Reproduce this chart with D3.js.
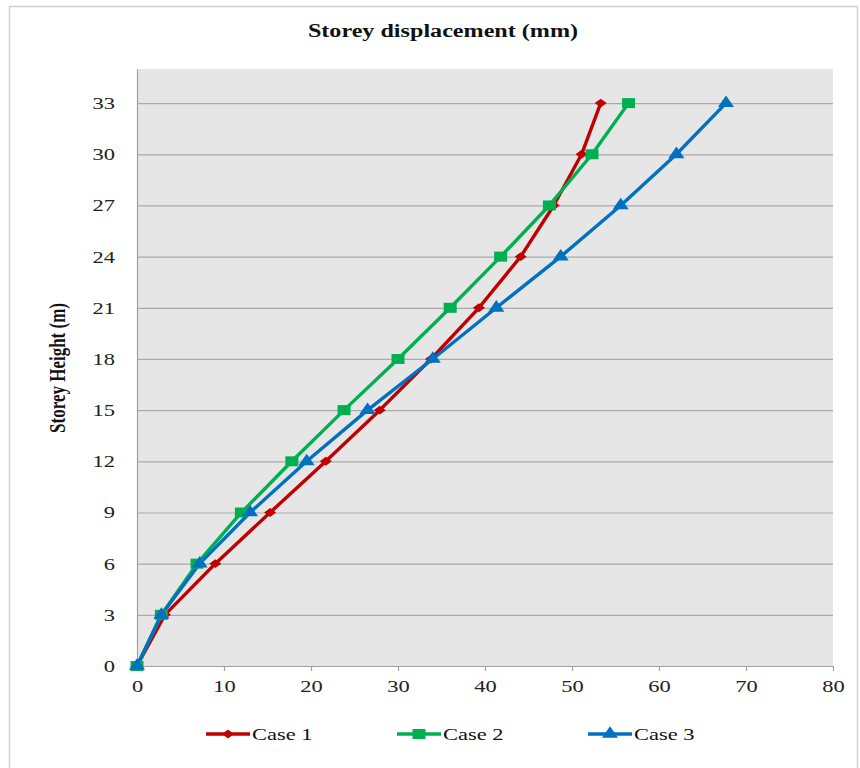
<!DOCTYPE html>
<html><head><meta charset="utf-8">
<script src="https://cdn.jsdelivr.net/npm/d3@7"></script>
<style>body{margin:0;background:#fff;} svg{display:block;}</style>
</head><body>
<script>
const storeys = [0, 3, 6, 9, 12, 15, 18, 21, 24, 27, 30, 33];
const case1 = [0, 3.2, 9.0, 15.3, 21.7, 27.9, 33.8, 39.3, 44.1, 47.9, 51.1, 53.3];
const case2 = [0, 2.8, 6.9, 12.0, 17.8, 23.8, 30.0, 36.0, 41.8, 47.4, 52.3, 56.5];
const case3 = [0, 2.8, 7.2, 13.0, 19.5, 26.5, 34.0, 41.3, 48.7, 55.6, 62.0, 67.7];
const seriesNames = ["Case 1", "Case 2", "Case 3"];
const xTicks = [0, 10, 20, 30, 40, 50, 60, 70, 80];
const yTicks = [0, 3, 6, 9, 12, 15, 18, 21, 24, 27, 30, 33];

const W = 860, H = 768;
const STRETCH = 1.32;
const svg = d3.select("body").append("svg").attr("width", W).attr("height", H);
const serif = "'Liberation Serif','Times New Roman',serif";

function stretch(sel, k) {
  sel.each(function() {
    const len = this.getComputedTextLength();
    d3.select(this).attr("textLength", len * k).attr("lengthAdjust", "spacingAndGlyphs");
  });
}

// outer chart border
svg.append("rect").attr("x", 9.5).attr("y", 6.5).attr("width", 848).attr("height", 770)
  .attr("fill", "#fff").attr("stroke", "#d0d0d0").attr("stroke-width", 1.5);

const plot = {left: 137, right: 833, top: 69, bottom: 666};
const x = d3.scaleLinear().domain([0, 80]).range([plot.left, plot.right]);
const y = d3.scaleLinear().domain([0, 35]).range([plot.bottom, plot.top]);

svg.append("rect").attr("x", plot.left).attr("y", plot.top)
  .attr("width", plot.right - plot.left).attr("height", plot.bottom - plot.top)
  .attr("fill", "#e6e6e6");

// gridlines
svg.append("g").selectAll("line").data(yTicks.filter(d => d > 0)).join("line")
  .attr("x1", plot.left).attr("x2", plot.right)
  .attr("y1", d => y(d) + 0.5).attr("y2", d => y(d) + 0.5)
  .attr("stroke", "#aaaaaa").attr("stroke-width", 1.2);

// y axis
const yAxis = svg.append("g").attr("transform", `translate(${plot.left},0)`)
  .call(d3.axisLeft(y).tickValues(yTicks).tickSize(0).tickPadding(22));
yAxis.select(".domain").attr("stroke", "#a0a0a0").attr("stroke-width", 1.2);
yAxis.selectAll("text").attr("font-family", serif).attr("font-size", 17).attr("fill", "#222")
  .call(stretch, STRETCH);

// x axis
const xAxis = svg.append("g").attr("transform", `translate(0,${plot.bottom})`)
  .call(d3.axisBottom(x).tickValues(xTicks).tickSize(5).tickSizeOuter(0).tickPadding(9));
xAxis.select(".domain").attr("stroke", "#a0a0a0").attr("stroke-width", 1.2);
xAxis.selectAll(".tick line").attr("stroke", "#a0a0a0").attr("stroke-width", 1.2);
xAxis.selectAll("text").attr("font-family", serif).attr("font-size", 17).attr("fill", "#222")
  .call(stretch, STRETCH);

// title
svg.append("text").attr("x", 443).attr("y", 37).attr("text-anchor", "middle")
  .attr("font-family", serif).attr("font-weight", "bold").attr("font-size", 18)
  .attr("fill", "#111").text("Storey displacement (mm)")
  .call(stretch, 1.34);

// y title
svg.append("text").attr("transform", `translate(65,368) scale(${STRETCH},1) rotate(-90)`)
  .attr("text-anchor", "middle")
  .attr("font-family", serif).attr("font-weight", "bold").attr("font-size", 17)
  .attr("fill", "#111").text("Storey Height (m)");

const colors = ["#c00000", "#00b050", "#0070c0"];
const diamond = {
  draw(ctx, size) {
    const r = Math.sqrt(size) / 2;
    ctx.moveTo(0, -r); ctx.lineTo(r, 0); ctx.lineTo(0, r); ctx.lineTo(-r, 0); ctx.closePath();
  }
};
const symbols = [diamond, d3.symbolSquare, d3.symbolTriangle];
const symSizes = [110, 100, 85];
const symScale = ["scale(1.15,0.85)", "scale(1.3,1)", "scale(1.15,0.95)"];
const allData = [case1, case2, case3];

const line = d3.line().x(d => x(d[0])).y(d => y(d[1]));

allData.forEach((vals, i) => {
  const pts = vals.map((v, j) => [v, storeys[j]]);
  svg.append("path").datum(pts).attr("d", line)
    .attr("fill", "none").attr("stroke", colors[i]).attr("stroke-width", 3.4)
    .attr("stroke-linejoin", "round");
});
allData.forEach((vals, i) => {
  const pts = vals.map((v, j) => [v, storeys[j]]);
  svg.append("g").selectAll("path").data(pts).join("path")
    .attr("transform", d => `translate(${x(d[0])},${y(d[1])}) ${symScale[i]}`)
    .attr("d", d3.symbol().type(symbols[i]).size(symSizes[i]))
    .attr("fill", colors[i]);
});

// legend
const legX = [206, 397, 588];
const leg = svg.append("g");
seriesNames.forEach((name, i) => {
  const g = leg.append("g").attr("transform", `translate(${legX[i]},734)`);
  g.append("line").attr("x1", 0).attr("x2", 44).attr("y1", 0).attr("y2", 0)
    .attr("stroke", colors[i]).attr("stroke-width", 3.4);
  g.append("path").attr("transform", `translate(22,0) ${symScale[i]}`)
    .attr("d", d3.symbol().type(symbols[i]).size(symSizes[i])).attr("fill", colors[i]);
  g.append("text").attr("x", 46).attr("y", 6).attr("font-family", serif)
    .attr("font-size", 17).attr("fill", "#111").text(name)
    .call(stretch, STRETCH);
});
</script>
</body></html>
